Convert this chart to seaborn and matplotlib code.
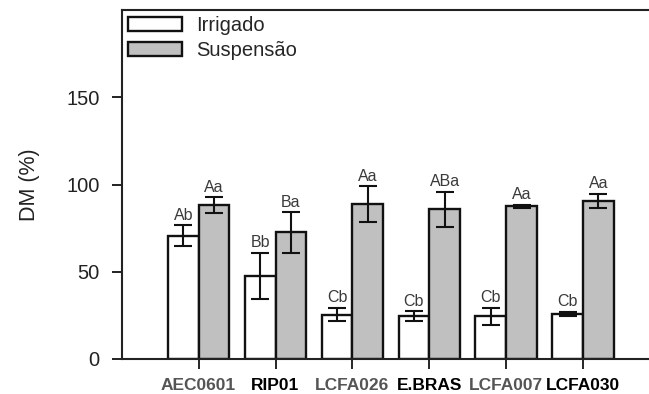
import matplotlib
matplotlib.use("Agg")
import matplotlib.pyplot as plt
import seaborn as sns
import pandas as pd

genotypes = ["AEC0601", "RIP01", "LCFA026", "E.BRAS", "LCFA007", "LCFA030"]
label_colors = ["#555555", "black", "#555555", "black", "#555555", "black"]
treatments = ["Irrigado", "Suspensão"]

irrigado = [70.6, 47.5, 25.4, 24.4, 24.4, 25.9]
irrigado_err = [6.1, 13.3, 3.8, 2.9, 5.0, 1.0]
irrigado_letters = ["Ab", "Bb", "Cb", "Cb", "Cb", "Cb"]

suspensao = [88.2, 72.5, 88.6, 85.7, 87.6, 90.5]
suspensao_err = [4.4, 11.5, 10.3, 10.0, 0.8, 4.2]
suspensao_letters = ["Aa", "Ba", "Aa", "ABa", "Aa", "Aa"]

df = pd.DataFrame({
    "Genótipo": genotypes * 2,
    "Tratamento": [treatments[0]] * len(genotypes) + [treatments[1]] * len(genotypes),
    "DM": irrigado + suspensao,
})

sns.set_style("ticks")
plt.rcParams["font.family"] = ["Liberation Sans", "DejaVu Sans"]

fig = plt.figure(figsize=(6.49, 3.94), dpi=100)
# axes run past the right edge of the figure, so no right spine is seen
ax = fig.add_axes([121.7 / 649, 35 / 394, 7.5 * 76.9 / 649, 349 / 394])

sns.barplot(
    data=df, x="Genótipo", y="DM", hue="Tratamento",
    palette={"Irrigado": "white", "Suspensão": "#c0c0c0"},
    edgecolor="#111111", linewidth=1.7, width=0.8, errorbar=None, ax=ax,
)

errs = [irrigado_err, suspensao_err]
letters = [irrigado_letters, suspensao_letters]
for cont, err, lab in zip(ax.containers, errs, letters):
    for bar, e, t in zip(cont, err, lab):
        xc = bar.get_x() + bar.get_width() / 2
        h = bar.get_height()
        ax.errorbar(xc, h, yerr=e, color="#111111", lw=1.5, capsize=6.5,
                    capthick=1.5, zorder=5)
        ax.text(xc, h + e + 1.5, t, ha="center", va="bottom",
                fontsize=11.5, color="#3a3a3a")

ax.set_xlim(-1, 6.5)
ax.set_ylim(0, 200)
ax.set_yticks([0, 50, 100, 150])
ax.tick_params(axis="y", labelsize=14.5, width=1.4, length=7, pad=9,
               colors="#222222")
ax.tick_params(axis="x", width=1.4, length=7, pad=7)
ax.set_xticks(range(len(genotypes)))
ax.set_xticklabels(genotypes, fontsize=12.5, fontweight="bold")
for tl, c in zip(ax.get_xticklabels(), label_colors):
    tl.set_color(c)
ax.set_xlabel("")
ax.set_ylabel("DM (%)", fontsize=15.5, color="#222222", labelpad=19)

for s in ["left", "bottom", "top"]:
    ax.spines[s].set_linewidth(1.5)
    ax.spines[s].set_color("#222222")
ax.spines["right"].set_visible(False)

handles, labels = ax.get_legend_handles_labels()
ax.legend(handles, labels, loc="upper left", frameon=False, fontsize=14.5,
          handlelength=2.7, handleheight=0.75, handletextpad=0.7,
          labelspacing=0.3, borderaxespad=0.0,
          bbox_to_anchor=(0.0, 1.0), borderpad=0.3)

fig.savefig("out.png", dpi=100)
